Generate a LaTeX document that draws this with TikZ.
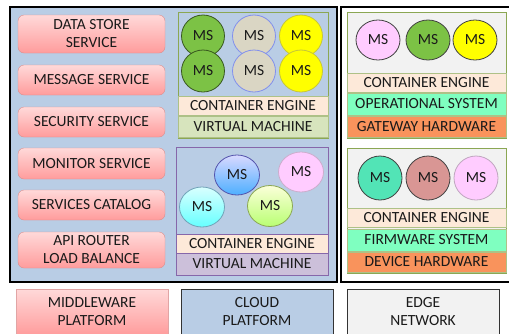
\documentclass[tikz,border=0pt]{standalone}
\usepackage{fontspec}
\setmainfont{Carlito}
\usepackage{tikz}
\usetikzlibrary{shapes.geometric}
\definecolor{CloudBlue}{HTML}{B9CDE5}
\definecolor{EdgeGray}{HTML}{F2F2F2}
\definecolor{SvcTop}{HTML}{FFD9D9}
\definecolor{SvcBottom}{HTML}{FF9C9C}
\definecolor{SvcLine}{HTML}{DA8E8E}
\definecolor{VMGreen}{HTML}{8BA753}
\definecolor{VMPurple}{HTML}{8667AA}
\definecolor{CEPeach}{HTML}{FDE9D9}
\definecolor{VMLeaf}{HTML}{D7E4BD}
\definecolor{VMLilac}{HTML}{CCC0DA}
\definecolor{OSMint}{HTML}{7FFFC0}
\definecolor{HWOrange}{HTML}{F9935C}
\definecolor{MSGreen}{HTML}{7CC245}
\definecolor{MSBeige}{HTML}{DAD6C4}
\definecolor{MSYellow}{HTML}{FFFF00}
\definecolor{MSPink}{HTML}{FFCCFF}
\definecolor{MSTeal}{HTML}{52E4B6}
\definecolor{MSRose}{HTML}{D99694}
\definecolor{InkGray}{HTML}{1A1A1A}

\begin{document}
\begin{tikzpicture}[x=1pt,y=-1pt,
  font=\fontsize{15.5}{18}\selectfont,text=InkGray,
  panel/.style={draw=black,line width=1.6pt,inner sep=0pt},
  svcbox/.style={draw=SvcLine,rounded corners=6pt,top color=SvcTop,bottom color=SvcBottom,
    minimum width=147pt,align=center,inner sep=0pt},
  group/.style={draw=#1,line width=1pt,minimum width=150pt,minimum height=126pt,inner sep=0pt},
  layer/.style={fill=#1,draw=VMGreen!70,line width=0.8pt,inner sep=0pt},
  ms/.style={ellipse,draw=#1,line width=0.8pt,inner sep=0pt,minimum width=43pt,minimum height=42pt},
  legend/.style={draw=#1,line width=1pt,minimum width=152pt,minimum height=46pt,align=center,inner sep=0pt}]
  \useasboundingbox (0,0) rectangle (509,333);
  % the two platforms
  \node[panel,fill=CloudBlue,minimum width=327pt,minimum height=275pt] (cloud) at (173.5,144.5) {};
  \node[panel,fill=white,minimum width=174pt,minimum height=275pt] (edge) at (428,144.5) {};
  % middleware services
  \node[svcbox,minimum height=38pt] (store) at (91.5,34) {DATA STORE\\SERVICE};
  \node[svcbox,minimum height=30pt] (message) at (91.5,80) {MESSAGE SERVICE};
  \node[svcbox,minimum height=30pt] (security) at (91.5,122) {SECURITY SERVICE};
  \node[svcbox,minimum height=31pt] (monitor) at (91.5,163.5) {MONITOR SERVICE};
  \node[svcbox,minimum height=30pt] (catalog) at (91.5,205) {SERVICES CATALOG};
  \node[svcbox,minimum height=36pt] (router) at (91.5,250) {API ROUTER\\LOAD BALANCE};
  % virtual machine 1
  \node[group=VMGreen] (vmA) at (253,75) {};
  \node[layer=CEPeach,minimum width=150pt,minimum height=19pt] (ceA) at (253,105.5) {CONTAINER ENGINE};
  \node[layer=VMLeaf,minimum width=150pt,minimum height=21pt] (vmlA) at (253,126.5) {VIRTUAL MACHINE};
  \foreach \n/\x/\y/\c/\l in {a1/203/36/MSGreen/MSGreen!45!black,a2/254/36/MSBeige/CloudBlue!70!blue,
      a3/301/36/MSYellow/MSYellow!55!gray,a4/203/71/MSGreen/MSGreen!45!black,
      a5/254/71/MSBeige/CloudBlue!70!blue,a6/301/71/MSYellow/MSYellow!55!gray}{
    \node[ms=\l,fill=\c] (\n) at (\x,\y) {MS};
  }
  % virtual machine 2
  \node[group=VMPurple,minimum width=152pt,minimum height=128pt] (vmB) at (252,211) {};
  \node[layer=CEPeach,draw=VMPurple,minimum width=152pt,minimum height=19pt] (ceB) at (252,243.5) {CONTAINER ENGINE};
  \node[layer=VMLilac,draw=VMPurple,minimum width=152pt,minimum height=22pt] (vmlB) at (252,264) {VIRTUAL MACHINE};
  \node[ms=blue!35!gray,top color=blue!15,bottom color=blue!45!cyan!70,minimum width=45pt,minimum height=40pt] (b1) at (237,175) {MS};
  \node[ms=MSPink!60!gray,fill=MSPink,minimum width=45pt,minimum height=40pt] (b2) at (301,172) {MS};
  \node[ms=cyan!40!gray,top color=cyan!15,bottom color=cyan!60,minimum width=45pt,minimum height=40pt] (b3) at (202,207) {MS};
  \node[ms=VMGreen,top color=green!10!yellow!15,bottom color=green!50!yellow!55,minimum width=45pt,minimum height=41pt] (b4) at (270,206) {MS};
  % gateway
  \node[group=VMGreen,fill=EdgeGray,minimum width=159pt] (gate) at (426.5,75) {};
  \node[layer=CEPeach,minimum width=159pt,minimum height=19pt] (ceG) at (426.5,82.5) {CONTAINER ENGINE};
  \node[layer=OSMint,minimum width=159pt,minimum height=22pt] (osG) at (426.5,104) {OPERATIONAL SYSTEM};
  \node[layer=HWOrange,minimum width=159pt,minimum height=21pt] (hwG) at (426.5,126.5) {GATEWAY HARDWARE};
  \foreach \n/\x/\c in {g1/378/MSPink,g2/428/MSGreen,g3/475/MSYellow}{
    \node[ms=black!75,fill=\c,minimum width=44pt,minimum height=40pt] (\n) at (\x,40) {MS};
  }
  % device
  \node[group=VMGreen,fill=EdgeGray,minimum width=159pt,minimum height=125pt] (device) at (426.5,210.5) {};
  \node[layer=CEPeach,minimum width=159pt,minimum height=19pt] (ceD) at (426.5,217.5) {CONTAINER ENGINE};
  \node[layer=OSMint,minimum width=159pt,minimum height=22pt] (fwD) at (426.5,240) {FIRMWARE SYSTEM};
  \node[layer=HWOrange,minimum width=159pt,minimum height=20pt] (hwD) at (426.5,262) {DEVICE HARDWARE};
  \foreach \n/\x/\c/\l in {d1/380/MSTeal/black!75,d2/428/MSRose/black!75,d3/476/MSPink/MSPink!50!gray}{
    \node[ms=\l,fill=\c,minimum width=44pt,minimum height=44pt] (\n) at (\x,178) {MS};
  }
  % legend
  \node[legend=SvcLine!80,top color=SvcTop,bottom color=SvcBottom] (keyMid) at (92,312) {MIDDLEWARE\\PLATFORM};
  \node[legend=black!80,fill=CloudBlue] (keyCloud) at (257,312) {CLOUD\\PLATFORM};
  \node[legend=black!80,fill=EdgeGray] (keyEdge) at (423,312) {EDGE\\NETWORK};
\end{tikzpicture}
\end{document}
